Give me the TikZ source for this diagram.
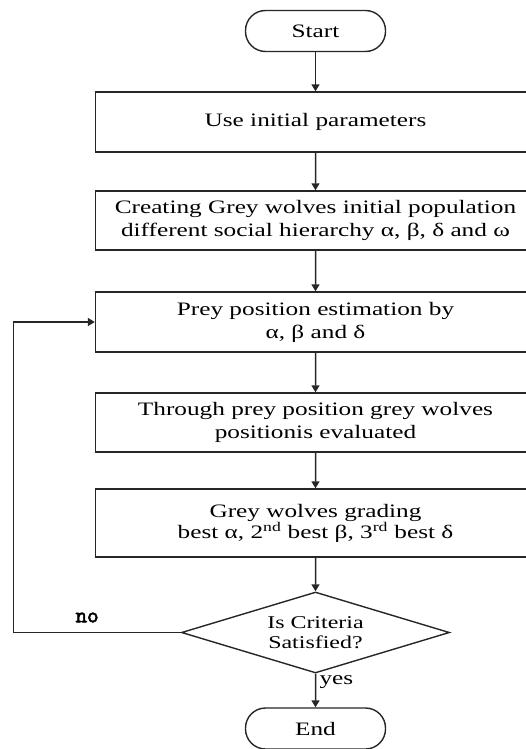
\documentclass[tikz,border=0pt]{standalone}
\usepackage{fontspec}
\setmainfont{Liberation Serif}[FakeStretch=1.33]
\newfontfamily\nofont{lmmono10-regular.otf}[FakeBold=2.5]
\usetikzlibrary{shapes.geometric,arrows.meta}

\tikzstyle{term} = [draw, rounded corners=20pt, minimum width=140pt, minimum height=41pt]
\tikzstyle{stage} = [draw, minimum width=440pt, minimum height=60pt, align=center]
\tikzstyle{decision} = [draw, diamond, aspect=3.3, inner sep=0pt, minimum width=268pt, minimum height=81pt, align=center, font=\fontsize{18}{20}\selectfont]
\tikzstyle{flow} = [draw, line width=1.5pt, -{Triangle[length=7pt,width=8pt]}]

\begin{document}
\begin{tikzpicture}[x=1pt, y=1pt, grow=down, line width=1.4pt, draw=black!85,
  font=\fontsize{19}{23}\selectfont,
  edge from parent/.style={draw=none},
  level 1/.style={level distance=91pt},
  level 2/.style={level distance=98.5pt},
  level 3/.style={level distance=101.5pt},
  level 4/.style={level distance=100.5pt},
  level 5/.style={level distance=100.5pt},
  level 6/.style={level distance=109.5pt},
  level 7/.style={level distance=96pt}]
\useasboundingbox (0,0) rectangle (526,-749);
\clip (0,0) rectangle (526,-749);
\node[term] (start) at (315.5,-31) {Start}
  child
  {
    node[stage] (init) {Use initial parameters}
    child
    {
      node[stage, minimum height=59pt] (pop) {Creating Grey wolves initial population\\ different social hierarchy α, β, δ and ω}
      child
      {
        node[stage] (prey) {Prey position estimation by\\ α, β and δ}
        child
        {
          node[stage, minimum height=59pt] (eval) {Through prey position grey wolves\\ positionis evaluated}
          child
          {
            node[stage, minimum height=68pt, font=\fontsize{19}{21}\selectfont] (grade) {Grey wolves grading\\ best α, 2\textsuperscript{nd} best β, 3\textsuperscript{rd} best δ}
            child
            {
              node[decision] (check) {Is Criteria\\ Satisfied?}
              child
              {
                node[term] (end) {End}
              }
            }
          }
        }
      }
    }
  };
\foreach \from/\to in {start/init, init/pop, pop/prey, prey/eval, eval/grade, grade/check}
  \draw[flow] (\from) -- (\to);
\draw[flow] (check) -- node[right, pos=0.25] {yes} (end);
\coordinate (loop) at (13.5,0);
\draw[flow] (check.west) -- node[above=6pt, pos=0.56, font=\nofont\fontsize{22}{22}\selectfont] {no} (check.west -| loop) |- (prey.west);
\end{tikzpicture}
\end{document}
